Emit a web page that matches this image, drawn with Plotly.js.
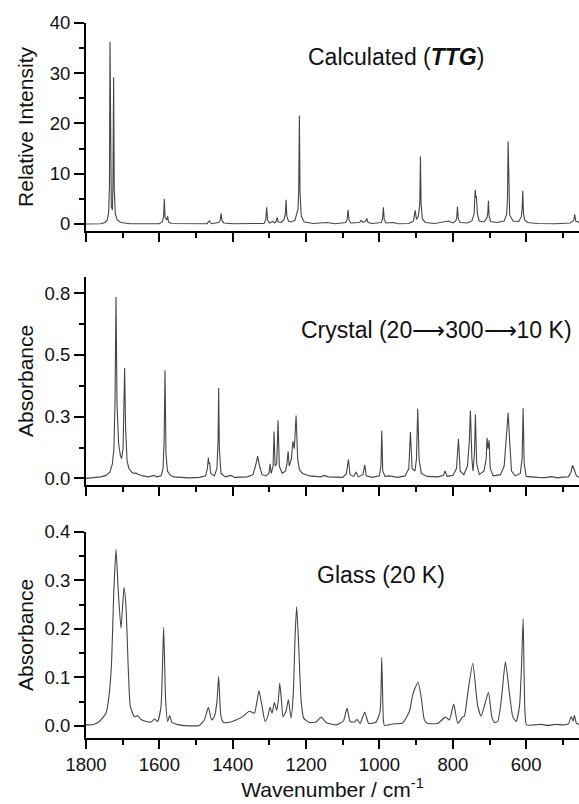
<!DOCTYPE html>
<html>
<head>
<meta charset="utf-8">
<script src="https://cdn.plot.ly/plotly-3.0.1.min.js"></script>
<style>html,body{margin:0;padding:0;background:#fff;}#chart{width:579px;height:804px;}</style>
</head>
<body>
<div id="chart"></div>
<script>
// Wavenumber (cm-1), value pairs
const calculated = [
[1800,0],[1760,0.05],[1748,0.3],[1742,0.8],[1738,2.5],[1736,8],[1734.6,36.3],[1733,8],[1731,3.5],[1728,2.8],
[1726.5,8],[1724.7,29.2],[1723,7],[1720,2],[1715,0.8],[1705,0.3],[1680,0.05],[1600,0.05],[1592,0.4],[1588.5,1.5],
[1586.5,5.0],[1584.5,1.3],[1580,0.8],[1577.5,1.5],[1575,0.4],[1568,0.1],[1470,0.05],[1463.7,0.6],[1458,0.05],[1438,0.3],
[1434,0.8],[1431.8,2.1],[1429.5,0.7],[1424,0.2],[1400,0.05],[1315,0.1],[1310,0.8],[1307.5,3.3],[1305,0.8],[1300,0.2],
[1291,0.5],[1286,0.2],[1281,0.6],[1279,1.3],[1276,0.4],[1268,0.3],[1260,0.9],[1256.5,2.0],[1254.6,4.8],[1252.5,1.5],
[1248,0.6],[1240,0.4],[1230,0.8],[1222,3.0],[1220,7],[1218.3,21.6],[1216.5,6],[1213,1.5],[1205,0.4],[1180,0.1],
[1143.9,0.3],[1120,0.05],[1092,0.3],[1088,0.9],[1085.5,2.8],[1083,0.8],[1078,0.2],[1054,0.3],[1050,0.7],[1045,0.3],
[1038,0.5],[1034.8,1.1],[1031,0.3],[1020,0.1],[995,0.3],[991.5,1.0],[989.3,3.3],[987,0.9],[982,0.2],[962,0.3],
[950,0.05],[920,0.1],[907,0.6],[902.8,2.7],[899,0.9],[894,1.5],[890,4],[888.3,13.5],[886.5,4],[883,1.0],
[875,0.3],[850,0.1],[812,0.6],[800,0.2],[792,0.6],[789.5,1.2],[787.4,3.4],[785,1.0],[780,0.3],[760,0.2],
[748,0.6],[742,2.0],[739,6.8],[737,5.2],[735.6,5.5],[733,2.0],[728,0.6],[715,0.4],[707,1.2],[704.8,2.0],
[702.9,4.6],[701,1.5],[697,0.5],[680,0.3],[660,0.6],[653,2.0],[651,5],[649.2,16.4],[647.3,5],[645,1.8],
[636,0.6],[620,0.5],[613,1.5],[611,3],[609.3,6.6],[607.5,2.2],[604,0.8],[596,0.3],[570,0.1],[520,0.05],
[480,0.2],[472,0.6],[469.5,1.0],[467.6,1.9],[465,0.6],[456,0.3]
];
const crystal = [
[1800,0.0],[1780,0.002],[1760,0.006],[1745,0.012],[1735,0.025],[1728,0.06],[1724,0.12],[1721,0.3],[1718.2,0.735],[1715.5,0.3],
[1711,0.14],[1706,0.09],[1703,0.08],[1699,0.12],[1697,0.25],[1694.7,0.447],[1692,0.2],[1688,0.07],[1683,0.04],[1675,0.025],
[1668,0.02],[1664,0.022],[1660,0.018],[1645,0.01],[1630,0.006],[1614,0.012],[1608,0.006],[1595,0.01],[1590,0.04],[1587,0.15],
[1584.6,0.438],[1582,0.1],[1578,0.03],[1570,0.012],[1560,0.006],[1520,0.002],[1490,0.004],[1474,0.01],[1469,0.04],[1466.5,0.084],
[1465,0.06],[1463,0.065],[1460,0.02],[1450,0.01],[1443,0.04],[1440,0.15],[1438.4,0.366],[1436.5,0.12],[1432,0.02],[1420,0.006],
[1404.6,0.012],[1395,0.004],[1360,0.006],[1345,0.015],[1338,0.05],[1332,0.09],[1327,0.05],[1320,0.015],[1310,0.01],[1301,0.02],
[1298.2,0.059],[1295,0.02],[1290,0.05],[1287.3,0.19],[1284.5,0.05],[1280,0.06],[1276.4,0.235],[1273,0.05],[1265,0.02],[1256,0.03],
[1252,0.06],[1249,0.11],[1246,0.05],[1240,0.08],[1236,0.15],[1232,0.12],[1227.3,0.255],[1223,0.08],[1218,0.035],[1210,0.02],
[1190,0.01],[1160,0.006],[1150,0.012],[1140,0.006],[1100,0.004],[1090,0.02],[1084.7,0.076],[1080,0.015],[1070,0.008],[1063.7,0.026],
[1058,0.006],[1045,0.015],[1040,0.055],[1036,0.01],[1020,0.004],[1000,0.01],[996,0.05],[993.7,0.194],[991,0.03],[985,0.008],
[973,0.01],[950,0.004],[930,0.01],[920,0.04],[915.6,0.188],[911,0.04],[903,0.03],[899,0.08],[895.7,0.282],[892,0.08],
[886,0.02],[870,0.008],[840,0.006],[826,0.012],[821,0.03],[816,0.008],[800,0.012],[790,0.04],[784.7,0.16],[780,0.03],
[770,0.015],[760,0.05],[755,0.15],[752,0.275],[748,0.08],[745,0.03],[741,0.1],[738.4,0.259],[735,0.06],[728,0.015],
[715,0.03],[709,0.08],[706.6,0.163],[704,0.12],[701.1,0.154],[698,0.04],[690,0.01],[670,0.015],[660,0.05],[654,0.18],
[649.2,0.266],[645,0.15],[640,0.03],[630,0.01],[616,0.02],[611,0.08],[608.3,0.284],[605.5,0.06],[600,0.008],[570,0.004],
[550,0.003],[530,0.007],[515,0.002],[500,0.005],[485,0.006],[478,0.025],[473.8,0.053],[470,0.04],[468,0.03],[463,0.01],
[456,0.004]
];
const glass = [
[1800,0.002],[1780,0.003],[1763.7,0.009],[1745.5,0.026],[1736.5,0.067],[1730,0.136],[1724.7,0.267],[1718.2,0.364],[1712.7,0.287],[1704.6,0.201],
[1696.4,0.285],[1691,0.246],[1684.6,0.115],[1679.2,0.04],[1668,0.019],[1659,0.021],[1650,0.013],[1636,0.009],[1622.7,0.008],[1613.7,0.014],
[1604.7,0.009],[1595.5,0.04],[1588.4,0.203],[1583,0.054],[1577.5,0.009],[1572,0.021],[1565.5,0.007],[1545.6,0.002],[1518,0],[1491,0.001],
[1477.4,0.012],[1466.5,0.038],[1457.5,0.012],[1450,0.019],[1443,0.05],[1438.4,0.102],[1432,0.019],[1424.7,0.007],[1404.6,0.008],[1391,0.012],
[1373,0.019],[1354.7,0.03],[1341,0.026],[1334,0.05],[1328.3,0.073],[1320,0.04],[1311.8,0.009],[1304.6,0.019],[1298.2,0.038],[1292.8,0.026],
[1286.5,0.048],[1280.2,0.032],[1276,0.05],[1271.9,0.088],[1267,0.05],[1262.9,0.019],[1254.6,0.03],[1248.3,0.054],[1241,0.016],[1234.7,0.07],
[1230,0.184],[1225.7,0.246],[1220,0.162],[1213.7,0.054],[1206.6,0.016],[1191,0.007],[1172.8,0.008],[1159,0.018],[1145.5,0.007],[1118,0.002],
[1098.3,0.01],[1088.3,0.036],[1080,0.009],[1068.3,0.008],[1061,0.013],[1052.8,0.005],[1040.2,0.028],[1029.3,0.005],[1009.2,0.008],[998.3,0.03],
[993.8,0.141],[989.2,0.01],[986.5,0.001],[964,0.004],[936.6,0.006],[918.3,0.03],[909.4,0.064],[902.8,0.078],[894.6,0.09],[886.4,0.06],
[877.4,0.012],[868.4,0.005],[841.2,0.005],[820,0.018],[809.3,0.012],[797.5,0.045],[786.6,0.005],[773,0.019],[768.4,0.02],[759.4,0.067],
[745.6,0.129],[732,0.04],[722.8,0.02],[702.9,0.069],[693.9,0.019],[686.6,0.007],[677.6,0.009],[668.3,0.05],[656.6,0.132],[645.6,0.067],
[636.6,0.019],[627.3,0.009],[618.3,0.04],[612.9,0.12],[608.3,0.221],[603.9,0.04],[599.3,0.002],[580,0.002],[560,0.003],[540,0.001],
[520,0.003],[500,0.002],[485,0.004],[477.3,0.019],[472,0.01],[468.4,0.022],[463,0.005],[456,0.003]
];
const panelLabels = ["Calculated (<b><i>TTG</i></b>)", "Crystal (20\u27F6300\u27F610 K)", "Glass (20 K)"];
const yTitles = ["Relative Intensity", "Absorbance", "Absorbance"];
const crystalTickVals = [0, 0.25, 0.5, 0.75];
const crystalTickText = ["0.0", "0.3", "0.5", "0.8"];
const xTitle = "Wavenumber / cm<sup>-1</sup>";

const FONT = "Liberation Sans, Arial, Helvetica, sans-serif";
const lineStyle = {color: "#454545", width: 1.1};

function mk(data, xa, ya, shape) {
  return {x: data.map(d => d[0]), y: data.map(d => d[1]), xaxis: xa, yaxis: ya,
    type: "scatter", mode: "lines",
    line: Object.assign({}, lineStyle, shape ? {shape: "spline", smoothing: 0.5} : {}),
    hoverinfo: "x+y", showlegend: false};
}

const traces = [mk(calculated, "x", "y"), mk(crystal, "x2", "y2"), mk(glass, "x3", "y3", true)];

const xBase = {
  range: [1800, 456], showline: true, linecolor: "#000", linewidth: 2, mirror: false,
  ticks: "outside", ticklen: 9, tickwidth: 2, tickcolor: "#000",
  tick0: 0, dtick: 200, showgrid: false, zeroline: false,
  minor: {ticks: "outside", ticklen: 5, tickwidth: 2, tickcolor: "#000", dtick: 100, tick0: 0, showgrid: false},
  tickfont: {family: FONT, size: 18.5, color: "#111"}
};
const yBase = {
  showline: true, linecolor: "#000", linewidth: 2, ticks: "outside", ticklen: 10, tickwidth: 2, tickcolor: "#000",
  showgrid: false, zeroline: false, tickfont: {family: FONT, size: 18.5, color: "#111"}
};

const layout = {
  width: 579, height: 804,
  margin: {l: 86, r: 0, t: 23, b: 66},
  paper_bgcolor: "#fff", plot_bgcolor: "#fff",
  font: {family: FONT, color: "#111"},
  xaxis: Object.assign({}, xBase, {anchor: "y", showticklabels: false}),
  xaxis2: Object.assign({}, xBase, {anchor: "y2", showticklabels: false, matches: "x"}),
  xaxis3: Object.assign({}, xBase, {anchor: "y3", matches: "x",
    title: {text: xTitle, font: {family: FONT, size: 21, color: "#111"}, standoff: 6}}),
  yaxis: Object.assign({}, yBase, {domain: [0.7091, 1], range: [-1.4, 40], dtick: 10, tick0: 0,
    minor: {ticks: "outside", ticklen: 5, tickwidth: 2, tickcolor: "#000", dtick: 5, tick0: 0},
    title: {text: yTitles[0], font: {family: FONT, size: 21, color: "#111"}}}),
  yaxis2: Object.assign({}, yBase, {domain: [0.3538, 0.6452], range: [-0.027, 0.817],
    tickmode: "array", tickvals: crystalTickVals, ticktext: crystalTickText,
    minor: {ticks: "outside", ticklen: 5, tickwidth: 2, tickcolor: "#000", tickmode: "linear", dtick: 0.125, tick0: 0},
    title: {text: yTitles[1], font: {family: FONT, size: 21, color: "#111"}}}),
  yaxis3: Object.assign({}, yBase, {domain: [0, 0.2885], range: [-0.025, 0.4], dtick: 0.1, tick0: 0, tickformat: ".1f",
    minor: {ticks: "outside", ticklen: 5, tickwidth: 2, tickcolor: "#000", dtick: 0.05, tick0: 0},
    title: {text: yTitles[2], font: {family: FONT, size: 21, color: "#111"}}}),
  annotations: [
    {text: panelLabels[0], xref: "paper", yref: "paper", x: 0.628, y: 0.952, showarrow: false, xanchor: "center", yanchor: "middle",
      font: {family: FONT, size: 23, color: "#111"}},
    {text: panelLabels[1], xref: "paper", yref: "paper", x: 0.71, y: 0.571, showarrow: false, xanchor: "center", yanchor: "middle",
      font: {family: FONT, size: 23, color: "#111"}},
    {text: panelLabels[2], xref: "paper", yref: "paper", x: 0.598, y: 0.228, showarrow: false, xanchor: "center", yanchor: "middle",
      font: {family: FONT, size: 23, color: "#111"}}
  ]
};

Plotly.newPlot("chart", traces, layout, {displayModeBar: false, staticPlot: true});
</script>
</body>
</html>
